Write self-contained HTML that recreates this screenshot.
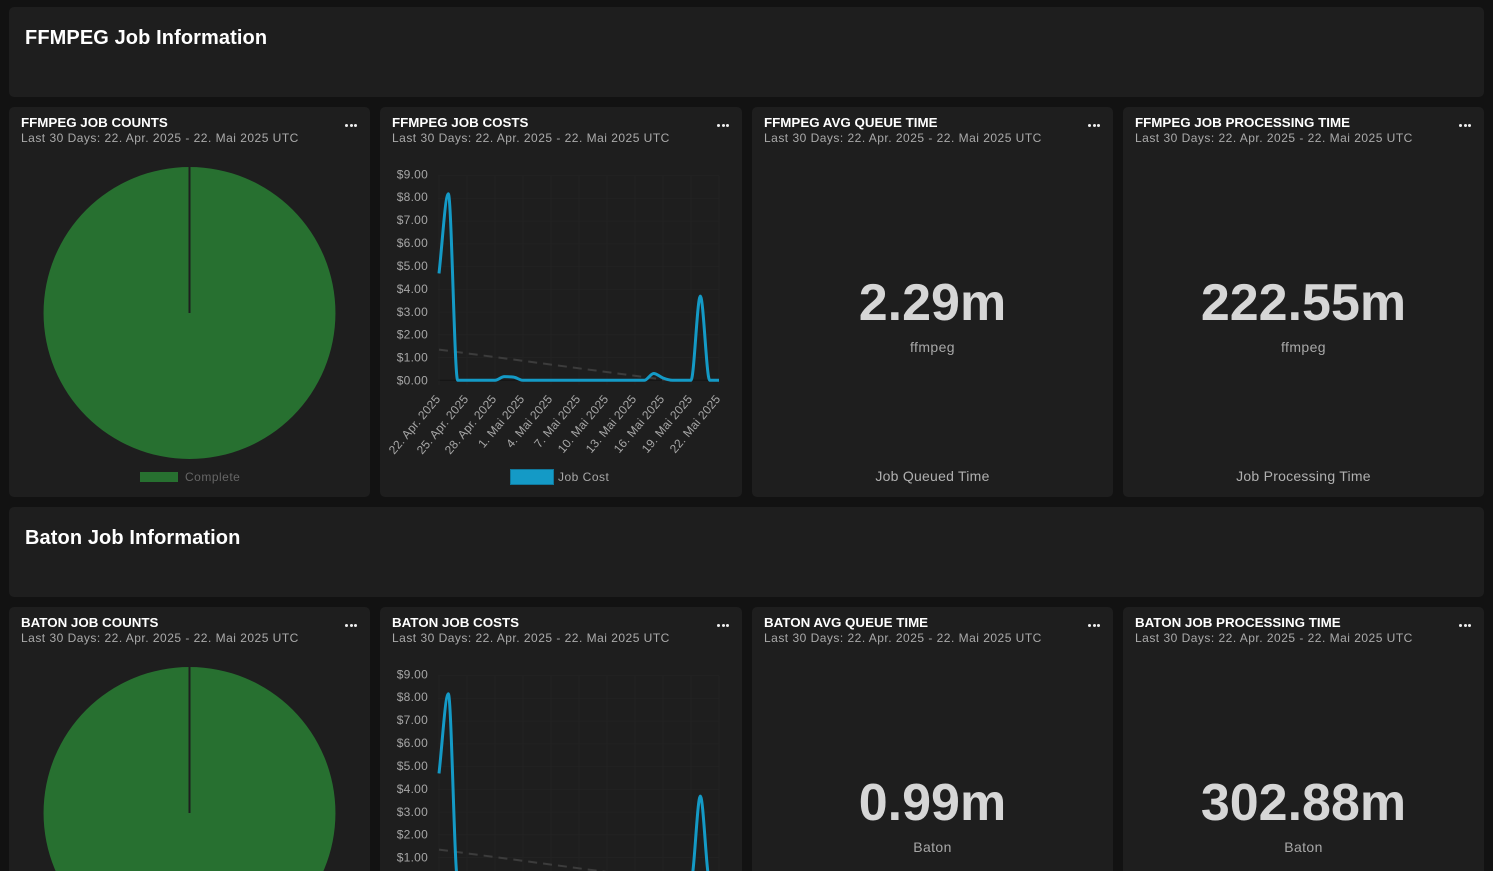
<!DOCTYPE html>
<html lang="de">
<head>
<meta charset="utf-8">
<title>Job Information Dashboard</title>
<style>
html,body{margin:0;padding:0;background:#121212;width:1493px;height:871px;overflow:hidden}
body{position:relative;font-family:"Liberation Sans",sans-serif}
.panel{position:absolute;background:#1e1e1e;border-radius:5px}
.section{left:9px;width:1475px;height:90px}
.section h2{position:absolute;left:16px;top:17px;margin:0;font-size:20px;line-height:28px;font-weight:bold;color:#fff;letter-spacing:.1px;white-space:nowrap}
.card{height:390px;overflow:hidden}
.c1{left:9px;width:361px}.c2{left:380px;width:362px}.c3{left:752px;width:361px}.c4{left:1123px;width:361px}
.t{position:absolute;left:12px;top:8px;font-size:13.35px;line-height:15px;font-weight:bold;color:#fff;white-space:nowrap}
.s{position:absolute;left:12px;top:24px;font-size:12px;line-height:14px;color:#aaa;white-space:nowrap;letter-spacing:.485px}
.m{position:absolute;right:13px;top:17px;width:12px;height:3px;display:flex;justify-content:space-between}
.m i{display:block;width:3px;height:3px;border-radius:50%;background:#eee}
.big,.lab,.foot{position:absolute;left:0;right:0;text-align:center;white-space:nowrap}
.big{top:165px;font-size:52px;line-height:62px;font-weight:bold;color:#d6d6d6}
.lab{top:232px;font-size:14px;line-height:16px;color:#a8a8a8;letter-spacing:.4px}
.foot{top:361px;font-size:14px;line-height:16px;color:#b0b0b0;letter-spacing:.25px}
svg{position:absolute;left:0;top:0;overflow:visible}
svg text{font-family:"Liberation Sans",sans-serif}
</style>
</head>
<body>

<section class="panel section" style="top:7px">
  <h2>FFMPEG Job Information</h2>
</section>

<article class="panel card c1" style="top:107px">
  <div class="t">FFMPEG JOB COUNTS</div>
  <div class="s">Last 30 Days: 22. Apr. 2025 - 22. Mai 2025 UTC</div>
  <div class="m"><i></i><i></i><i></i></div>
  <svg id="pie-ffmpeg" width="361" height="390"></svg>
</article>
<article class="panel card c2" style="top:107px">
  <div class="t">FFMPEG JOB COSTS</div>
  <div class="s">Last 30 Days: 22. Apr. 2025 - 22. Mai 2025 UTC</div>
  <div class="m"><i></i><i></i><i></i></div>
  <svg id="line-ffmpeg" width="362" height="390"></svg>
</article>
<article class="panel card c3" style="top:107px">
  <div class="t">FFMPEG AVG QUEUE TIME</div>
  <div class="s">Last 30 Days: 22. Apr. 2025 - 22. Mai 2025 UTC</div>
  <div class="m"><i></i><i></i><i></i></div>
  <div class="big">2.29m</div>
  <div class="lab">ffmpeg</div>
  <div class="foot">Job Queued Time</div>
</article>
<article class="panel card c4" style="top:107px">
  <div class="t">FFMPEG JOB PROCESSING TIME</div>
  <div class="s">Last 30 Days: 22. Apr. 2025 - 22. Mai 2025 UTC</div>
  <div class="m"><i></i><i></i><i></i></div>
  <div class="big">222.55m</div>
  <div class="lab">ffmpeg</div>
  <div class="foot">Job Processing Time</div>
</article>

<section class="panel section" style="top:507px">
  <h2>Baton Job Information</h2>
</section>

<article class="panel card c1" style="top:607px">
  <div class="t">BATON JOB COUNTS</div>
  <div class="s">Last 30 Days: 22. Apr. 2025 - 22. Mai 2025 UTC</div>
  <div class="m"><i></i><i></i><i></i></div>
  <svg id="pie-baton" width="361" height="390"></svg>
</article>
<article class="panel card c2" style="top:607px">
  <div class="t">BATON JOB COSTS</div>
  <div class="s">Last 30 Days: 22. Apr. 2025 - 22. Mai 2025 UTC</div>
  <div class="m"><i></i><i></i><i></i></div>
  <svg id="line-baton" width="362" height="390"></svg>
</article>
<article class="panel card c3" style="top:607px">
  <div class="t">BATON AVG QUEUE TIME</div>
  <div class="s">Last 30 Days: 22. Apr. 2025 - 22. Mai 2025 UTC</div>
  <div class="m"><i></i><i></i><i></i></div>
  <div class="big">0.99m</div>
  <div class="lab">Baton</div>
  <div class="foot">Job Queued Time</div>
</article>
<article class="panel card c4" style="top:607px">
  <div class="t">BATON JOB PROCESSING TIME</div>
  <div class="s">Last 30 Days: 22. Apr. 2025 - 22. Mai 2025 UTC</div>
  <div class="m"><i></i><i></i><i></i></div>
  <div class="big">302.88m</div>
  <div class="lab">Baton</div>
  <div class="foot">Job Processing Time</div>
</article>

<script>
const dayTickLabels = ["22. Apr. 2025","25. Apr. 2025","28. Apr. 2025","1. Mai 2025","4. Mai 2025","7. Mai 2025","10. Mai 2025","13. Mai 2025","16. Mai 2025","19. Mai 2025","22. Mai 2025"];
const dollarTicks = [0,1,2,3,4,5,6,7,8,9];
const ffmpegCosts = [4.7,8.2,0,0,0,0,0,0.16,0.14,0,0,0,0,0,0,0,0,0,0,0,0,0,0,0.3,0.1,0,0,0,3.7,0,0];
const batonCosts = [4.7,8.2,0,0,0,0,0,0.16,0.14,0,0,0,0,0,0,0,0,0,0,0,0,0,0,0.3,0.1,0,0,0,3.7,0,0];
const ffmpegTrendDays = [0,24.6];
const ffmpegTrendValues = [1.35,0];
const batonTrendDays = [0,24.6];
const batonTrendValues = [1.35,0];
const ffmpegCountLabels = ["Complete"];
const ffmpegCountValues = [100];
const batonCountLabels = ["Complete"];
const batonCountValues = [100];

const NS = "http://www.w3.org/2000/svg";
function add(parent, tag, attrs, text) {
  const el = document.createElementNS(NS, tag);
  for (const k in attrs) el.setAttribute(k, attrs[k]);
  if (text !== undefined) el.textContent = text;
  parent.appendChild(el);
  return el;
}

function monotonePath(pts) {
  const n = pts.length, d = [], m = [];
  for (let i = 0; i < n - 1; i++) d[i] = (pts[i+1][1] - pts[i][1]) / (pts[i+1][0] - pts[i][0]);
  for (let i = 0; i < n; i++) {
    if (i === 0) m[i] = d[0];
    else if (i === n - 1) m[i] = d[n-2];
    else m[i] = (d[i-1] * d[i] <= 0) ? 0 : (d[i-1] + d[i]) / 2;
  }
  for (let i = 0; i < n - 1; i++) {
    if (d[i] === 0) { m[i] = 0; m[i+1] = 0; continue; }
    const a = m[i] / d[i], b = m[i+1] / d[i], s = a*a + b*b;
    if (s > 9) { const t = 3 / Math.sqrt(s); m[i] = t*a*d[i]; m[i+1] = t*b*d[i]; }
  }
  let p = "M" + pts[0][0] + " " + pts[0][1];
  for (let i = 0; i < n - 1; i++) {
    const h = (pts[i+1][0] - pts[i][0]) / 3;
    p += " C" + (pts[i][0]+h) + " " + (pts[i][1]+m[i]*h) + " " + (pts[i+1][0]-h) + " " + (pts[i+1][1]-m[i+1]*h) + " " + pts[i+1][0] + " " + pts[i+1][1];
  }
  return p;
}

function drawLineChart(id, costs, trendDays, trendValues) {
  const svg = document.getElementById(id);
  const left = 59, right = 339, zero = 273.3, top = 68.6, maxDollar = 9, lastDay = costs.length - 1;
  const xAxis = day => left + (right - left) * day / lastDay;
  const yAxis = val => zero - (zero - top) * val / maxDollar;

  dollarTicks.forEach(function (v) {
    const gridY = add(svg, "line", {x1: left - 1, x2: right, y1: yAxis(v), y2: yAxis(v), stroke: v === 0 ? "#131313" : "#222222", "stroke-width": 1});
    
    
    const tick = add(svg, "text", {x: 48, y: yAxis(v * 1.008) + 4.3, "text-anchor": "end", "font-size": 12, fill: "#a6a6a6", "letter-spacing": ".25"}, "$" + v.toFixed(2));
    
    
  });

  dayTickLabels.forEach(function (label, i) {
    const tx = xAxis(i * 3);
    const gridX = add(svg, "line", {x1: tx, x2: tx, y1: top, y2: zero + 5, stroke: "#222222", "stroke-width": 1});
    
    
    const ax = tx + 2, ay = zero + 19;
    const tick = add(svg, "text", {x: ax, y: ay, "text-anchor": "end", "font-size": 12, "letter-spacing": ".15", fill: "#a6a6a6", transform: "rotate(-50 " + ax + " " + ay + ")"}, label);
    
    
  });

  const trend = add(svg, "line", {x1: xAxis(trendDays[0]), y1: yAxis(trendValues[0]), x2: xAxis(trendDays[1]), y2: yAxis(trendValues[1]), stroke: "#3c3c3c", "stroke-width": 2, "stroke-dasharray": "9 6"});
  
  

  const pts = costs.map(function (v, i) { return [xAxis(i), yAxis(v)]; });
  const line = add(svg, "path", {d: monotonePath(pts), fill: "none", stroke: "#149ac6", "stroke-width": 3, "stroke-linejoin": "round"});
  
  

  const swatch = add(svg, "rect", {x: 130.5, y: 362.5, width: 43, height: 15, fill: "#149ac6", stroke: "#11789b", "stroke-width": 1});
  
  
  const legend = add(svg, "text", {x: 178, y: 374, "font-size": 12, fill: "#a8a8a8", "letter-spacing": ".5"}, "Job Cost");
  
  
}

function drawPie(id, labels, values) {
  const svg = document.getElementById(id);
  const cx = 180.5, cy = 206, r = 146;
  const total = values.reduce(function (a, b) { return a + b; }, 0);
  const colors = ["#277030", "#a33", "#c90"];
  let start = -Math.PI / 2;
  values.forEach(function (v, i) {
    const sweep = 2 * Math.PI * v / total;
    const end = start + sweep;
    const mid = start + sweep / 2;
    const px = a => cx + r * Math.cos(a), py = a => cy + r * Math.sin(a);
    const d = "M" + cx + " " + cy + " L" + px(start) + " " + py(start) +
      " A" + r + " " + r + " 0 0 1 " + px(mid) + " " + py(mid) +
      " A" + r + " " + r + " 0 0 1 " + px(end) + " " + py(end) + " Z";
    const slice = add(svg, "path", {d: d, fill: colors[i % colors.length]});
    
    
    const edge = add(svg, "line", {x1: cx, y1: cy, x2: px(start), y2: py(start), stroke: "#1e1e1e", "stroke-width": 2});
    
    
    start = end;
  });
  labels.forEach(function (label, i) {
    const swatch = add(svg, "rect", {x: 131, y: 365, width: 38, height: 10, fill: colors[i % colors.length]});
    
    
    const entry = add(svg, "text", {x: 176, y: 374, "font-size": 12, fill: "#666", "letter-spacing": ".5"}, label);
    
    
  });
}

drawPie("pie-ffmpeg", ffmpegCountLabels, ffmpegCountValues);
drawPie("pie-baton", batonCountLabels, batonCountValues);
drawLineChart("line-ffmpeg", ffmpegCosts, ffmpegTrendDays, ffmpegTrendValues);
drawLineChart("line-baton", batonCosts, batonTrendDays, batonTrendValues);
</script>
</body>
</html>
